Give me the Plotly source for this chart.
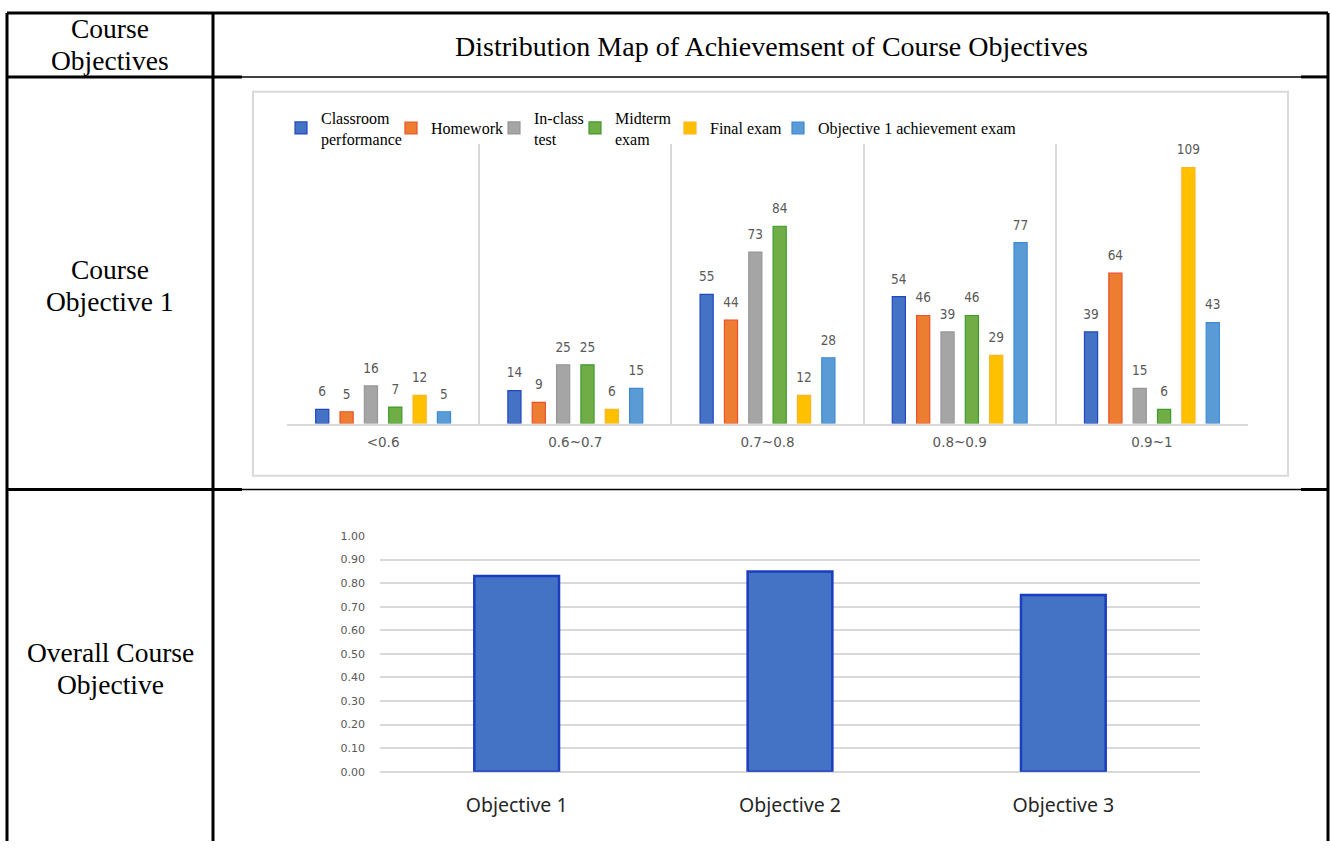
import plotly.graph_objects as go

# ---------------- data ----------------
ranges = ["<0.6", "0.6~0.7", "0.7~0.8", "0.8~0.9", "0.9~1"]
series_names = ["Classroom<br>performance", "Homework", "In-class<br>test",
                "Midterm<br>exam", "Final exam", "Objective 1 achievement exam"]
classroom = [6, 14, 55, 54, 39]
homework = [5, 9, 44, 46, 64]
inclass = [16, 25, 73, 39, 15]
midterm = [7, 25, 84, 46, 6]
final_exam = [12, 6, 12, 29, 109]
obj1_exam = [5, 15, 28, 77, 43]

objectives = ["Objective 1", "Objective 2", "Objective 3"]
overall = [0.83, 0.85, 0.75]

fills = ["#4472C4", "#ED7D31", "#A5A5A5", "#70AD47", "#FFC000", "#5B9BD5"]
edges = ["#2347C0", "#E8512A", "#979797", "#3E9A2C", "#FFB520", "#3A8AD6"]
legend_text_x = [321, 431, 534, 615, 710, 818]   # legend entry text start (px)

W, H = 1330, 848
def X(px):
    return px / W
def Y(py):
    return 1 - py / H

fig = go.Figure()
all_series = [classroom, homework, inclass, midterm, final_exam, obj1_exam]

for i, (name, vals, fc, ec) in enumerate(zip(series_names, all_series, fills, edges)):
    lg = "legend" if i == 0 else f"legend{i+1}"
    fig.add_trace(go.Bar(
        x=ranges, y=vals, name=name, legend=lg,
        offsetgroup=str(i),
        marker=dict(color=fc, line=dict(color=ec, width=1.2)),
        xaxis="x", yaxis="y", hoverinfo="x+y",
    ))
    # value labels, grouped like the bars
    fig.add_trace(go.Scatter(
        x=ranges, y=vals, mode="markers+text", text=[str(v) for v in vals],
        textposition="top center", offsetgroup=str(i), showlegend=False,
        marker=dict(size=14, color="rgba(0,0,0,0)"), cliponaxis=False,
        textfont=dict(family="DejaVu Sans Condensed, DejaVu Sans", size=13.5, color="#595959"),
        xaxis="x", yaxis="y", hoverinfo="skip",
    ))

fig.add_trace(go.Bar(
    x=objectives, y=overall, width=0.31, showlegend=False,
    marker=dict(color="#4472C4", line=dict(color="#1B3DBF", width=2.5)),
    xaxis="x2", yaxis="y2",
))

serif = "Liberation Serif, Times New Roman, serif"

shapes = []
def line(x0, y0, x1, y1, w):
    shapes.append(dict(type="line", xref="paper", yref="paper",
                       x0=X(x0), y0=Y(y0), x1=X(x1), y1=Y(y1),
                       line=dict(color="black", width=w)))

# table frame
line(7, 7, 1328, 7, 3)
line(7, 7, 7, 848, 3)
line(1328, 7, 1328, 848, 3)
line(213, 7, 213, 848, 3)
for yy in (72, 491):
    line(7, yy, 242, yy, 3)
    line(242, yy, 1301, yy, 1.5)
    line(1301, yy, 1328, yy, 3)

# chart 1 frame box
shapes.append(dict(type="rect", xref="paper", yref="paper",
                   x0=X(253), y0=Y(477), x1=X(1288), y1=Y(87),
                   line=dict(color="#D9D9D9", width=2), layer="below"))

annotations = []
def text(t, x, y, size=27.5):
    annotations.append(dict(text=t, xref="paper", yref="paper", x=X(x), y=Y(y),
                            showarrow=False, xanchor="center", yanchor="middle",
                            font=dict(family=serif, size=size, color="black")))

text("Course", 110, 23)
text("Objectives", 110, 55)
text("Distribution Map of Achievemsent of Course Objectives", 771, 41, 28)
text("Course", 110, 268)
text("Objective 1", 110, 300)
text("Overall Course", 110, 657)
text("Objective", 110, 689)

legend_common = dict(orientation="h", xanchor="left", yanchor="middle",
                     font=dict(family=serif, size=16, color="black"),
                     bgcolor="rgba(0,0,0,0)")
legends = {}
for i, tx in enumerate(legend_text_x):
    key = "legend" if i == 0 else f"legend{i+1}"
    legends[key] = dict(legend_common, x=X(tx - 40), y=Y(124))

fig.update_layout(
    width=W, height=H,
    margin=dict(l=0, r=0, t=0, b=0),
    paper_bgcolor="white", plot_bgcolor="rgba(0,0,0,0)",
    barmode="group", bargap=0.24, bargroupgap=0.46,
    scattermode="group", scattergap=0.24,
    showlegend=True,
    xaxis=dict(domain=[X(287), X(1248)], anchor="y", type="category",
               range=[-0.5, 4.5], showgrid=True, gridcolor="#D9D9D9", gridwidth=1.5,
               tickson="boundaries", ticks="", showline=True, linecolor="#D9D9D9",
               linewidth=1.5, ticklabelstandoff=6,
               tickfont=dict(family="DejaVu Sans", size=13.5, color="#595959")),
    yaxis=dict(domain=[Y(424), Y(140)], anchor="x", range=[0, 119.1], visible=False),
    xaxis2=dict(domain=[X(380), X(1200)], anchor="y2", type="category",
                range=[-0.5, 2.5], showgrid=False, showline=False, ticks="",
                ticklabelstandoff=20,
                tickfont=dict(family="Noto Sans", size=19.5, color="#262626")),
    yaxis2=dict(domain=[Y(777.7), Y(538.3)], anchor="x2", range=[0, 1.0],
                dtick=0.1, tick0=0, tickformat=".2f", showgrid=True,
                gridcolor="#D9D9D9", gridwidth=1.5, zeroline=True,
                zerolinecolor="#D9D9D9", zerolinewidth=1.5, showline=False,
                ticks="", ticklabelstandoff=14,
                tickfont=dict(family="DejaVu Sans", size=11, color="#595959")),
    shapes=shapes,
    annotations=annotations,
    **legends,
)

post = """
document.documentElement.style.margin='0';
document.documentElement.style.padding='0';
document.body.style.margin='0';
document.body.style.padding='0';
document.body.style.overflow='hidden';
var gd = document.getElementById('{plot_id}');
gd.style.position='absolute'; gd.style.left='0px'; gd.style.top='0px';
"""
fig.write_html("out.html", post_script=post, config={"displayModeBar": False})
